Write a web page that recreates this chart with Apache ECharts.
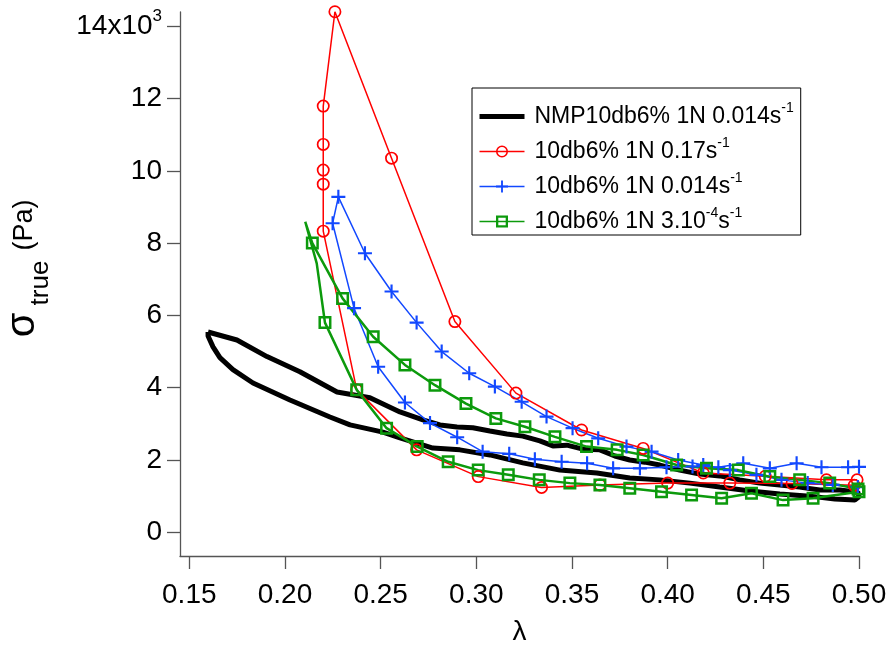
<!DOCTYPE html>
<html><head><meta charset="utf-8">
<script src="https://cdn.jsdelivr.net/npm/echarts@6/dist/echarts.min.js"></script>
<style>html,body{margin:0;padding:0;background:#fff}#c{width:893px;height:646px}</style>
</head><body><div id="c"></div>
<script>
// ---- tick labels ----
const xTicks = [0.15, 0.20, 0.25, 0.30, 0.35, 0.40, 0.45, 0.50];
const yTicks = [0, 2000, 4000, 6000, 8000, 10000, 12000, 14000];

// ---- series names ----
const names = ['NMP10db6% 1N 0.014s-1', '10db6% 1N 0.17s-1', '10db6% 1N 0.014s-1 ', '10db6% 1N 3.10-4s-1'];

// ---- NMP10db6% 1N 0.014 s^-1 (black loop) ----
const blackLambda = [0.1598,0.1749,0.1906,0.2078,0.2272,0.2444,0.2601,0.2721,0.2810,0.2899,0.2982,0.3071,0.3160,0.3243,0.3332,0.3400,0.3473,0.3557,0.3646,0.3724,0.3802,0.3881,0.3959,0.4063,0.4168,0.4272,0.4377,0.4481,0.4586,0.4690,0.4795,0.4900,0.4994,0.5000,
  0.4978,0.4874,0.4743,0.4586,0.4430,0.4272,0.4116,0.3959,0.3802,0.3630,0.3437,0.3243,0.3071,0.2914,0.2773,0.2601,0.2512,0.2340,0.2235,0.2026,0.1833,0.1728,0.1660,0.1624,0.1598,0.1598];
const blackSigma = [5540,5320,4860,4440,3880,3720,3330,3110,2970,2910,2890,2800,2720,2660,2530,2390,2410,2300,2280,2110,2000,1940,1860,1720,1610,1560,1450,1360,1310,1250,1170,1170,1110,980,
  890,920,1000,1060,1140,1250,1360,1450,1500,1640,1720,1920,2140,2280,2330,2610,2770,2970,3190,3660,4130,4500,4830,5130,5430,5540];

// ---- 10db6% 1N 0.17 s^-1 (red, circles) ----
const redLambda = [0.4975,0.4650,0.4325,0.4000,0.3646,0.3341,0.3010,0.2688,0.2375,0.2200,0.2200,0.2200,0.2200,0.2200,0.2261,0.2557,0.2888,0.3207,0.3550,0.3872,0.4186,0.4510,0.4830,0.4990];
const redSigma = [1300,1350,1360,1360,1310,1240,1540,2280,3940,8330,9630,10020,10730,11790,14400,10350,5830,3850,2830,2320,1640,1550,1450,1450];

// ---- 10db6% 1N 0.014 s^-1 (blue, crosses) ----
const blueLambda = [0.5000,0.4943,0.4804,0.4674,0.4534,0.4395,0.4265,0.4130,0.3994,0.3855,0.3715,0.3579,0.3446,0.3306,0.3172,0.3033,0.2900,0.2758,0.2627,0.2487,0.2361,0.2249,0.2279,0.2418,0.2557,0.2688,0.2819,0.2963,0.3097,0.3237,0.3367,0.3503,0.3637,0.3785,0.3916,0.4055,0.4186,0.4325,0.4464,0.4595,0.4732,0.4863,0.4994];
const blueSigma = [1810,1800,1800,1910,1770,1910,1800,1820,1800,1770,1770,1910,1950,2020,2170,2230,2630,3020,3590,4580,6200,8550,9280,7720,6660,5800,5000,4400,4030,3610,3200,2880,2600,2370,2230,2000,1860,1720,1590,1450,1360,1310,1250];

// ---- 10db6% 1N 3.10^-4 s^-1 (green, squares) ----
const greenLambda = [0.5000,0.4760,0.4603,0.4438,0.4282,0.4125,0.3968,0.3802,0.3646,0.3489,0.3329,0.3167,0.3010,0.2853,0.2691,0.2531,0.2375,0.2209,0.2166,0.2106,0.2143,0.2301,0.2461,0.2627,0.2784,0.2946,0.3102,0.3254,0.3411,0.3576,0.3736,0.3872,0.4047,0.4203,0.4369,0.4534,0.4690,0.4847,0.4995];
const greenSigma = [1120,940,890,1080,940,1030,1120,1220,1310,1360,1450,1590,1720,1950,2370,2880,3940,5800,7440,8590,8000,6470,5410,4630,4070,3560,3150,2920,2640,2370,2280,2140,1860,1770,1720,1540,1450,1360,1200];
const greenUnmarked = [18, 19];

const FONT = 'Liberation Sans, Arial, sans-serif';
const RED = '#ff0000', BLUE = '#1248ff', GREEN = '#0c9a0c';
const ringCircle = 'path://M0,6.5A6.5,6.5 0 1,0 13,6.5A6.5,6.5 0 1,0 0,6.5Z M1.7,6.5A4.8,4.8 0 1,1 11.3,6.5A4.8,4.8 0 1,1 1.7,6.5Z';
const plusMark = 'path://M5.5,0H7.5V5.5H13V7.5H7.5V13H5.5V7.5H0V5.5H5.5Z';
const ringSquare = 'path://M0,0H13V13H0Z M2.5,2.5V10.5H10.5V2.5Z';

function zip(xs, ys) { return xs.map((x, i) => [x, ys[i]]); }

const legendText = {};
legendText[names[0]] = '{g| }{a|NMP10db6% 1N 0.014s}{s|-1}';
legendText[names[1]] = '{g| }{a|10db6% 1N 0.17s}{s|-1}';
legendText[names[2]] = '{g| }{a|10db6% 1N 0.014s}{s|-1}';
legendText[names[3]] = '{g| }{a|10db6% 1N 3.10}{s|-4}{a|s}{s|-1}';

function vText(text, x, y, size) {
  return {type: 'text', x: x, y: y, rotation: Math.PI / 2,
    style: {text: text, align: 'center', verticalAlign: 'middle', fontSize: size, fontFamily: FONT, fill: '#000'}};
}

const chart = echarts.init(document.getElementById('c'), null, {renderer: 'canvas'});
chart.setOption({
  animation: false,
  backgroundColor: '#fff',
  grid: {left: 180, right: 34, top: 12, bottom: 90, containLabel: false, outerBoundsMode: 'none'},
  xAxis: {
    type: 'value', min: 0.14514, max: 0.5,
    axisLine: {show: true, onZero: false, lineStyle: {color: '#555', width: 1.3}},
    axisTick: {show: true, length: 13, customValues: xTicks, lineStyle: {color: '#555', width: 1.3}},
    axisLabel: {customValues: xTicks, formatter: v => v.toFixed(2), fontSize: 28, color: '#000', fontFamily: FONT, margin: 25},
    splitLine: {show: false},
    name: 'λ', nameLocation: 'middle', nameGap: 62,
    nameTextStyle: {fontSize: 28, color: '#000', fontFamily: FONT}
  },
  yAxis: {
    type: 'value', min: -656, max: 14393,
    axisLine: {show: true, onZero: false, lineStyle: {color: '#555', width: 1.3}},
    axisTick: {show: true, length: 13, customValues: yTicks, lineStyle: {color: '#555', width: 1.3}},
    axisLabel: {
      customValues: yTicks, margin: 18, color: '#000', fontFamily: FONT, fontSize: 28,
      formatter: v => v === 14000 ? '{m|14x10}{s|3}' : '{n|' + (v / 1000) + '}',
      rich: {
        m: {fontSize: 28, lineHeight: 36, fontFamily: FONT, color: '#000'},
        s: {fontSize: 17, lineHeight: 17, verticalAlign: 'top', fontFamily: FONT, color: '#000'},
        n: {fontSize: 28, lineHeight: 28, fontFamily: FONT, color: '#000'}
      }
    },
    splitLine: {show: false}
  },
  legend: {
    orient: 'vertical', left: 472, top: 88,
    itemWidth: 45, itemHeight: 15, itemGap: 8,
    padding: [13, 7, 2, 5],
    borderColor: '#000', borderWidth: 1,
    selectedMode: false,
    data: [
      {name: names[0], itemStyle: {opacity: 0}, lineStyle: {color: '#000', width: 5}},
      {name: names[1], lineStyle: {color: RED, width: 1.5}},
      {name: names[2], lineStyle: {color: BLUE, width: 1.5}},
      {name: names[3], lineStyle: {color: GREEN, width: 1.5}}
    ],
    formatter: n => legendText[n],
    textStyle: {
      fontFamily: FONT, color: '#000',
      rich: {
        g: {width: 5, fontSize: 23, lineHeight: 31},
        a: {fontSize: 23, lineHeight: 31, fontFamily: FONT, color: '#000'},
        s: {fontSize: 14, lineHeight: 14, verticalAlign: 'top', fontFamily: FONT, color: '#000'}
      }
    }
  },
  graphic: [
    vText('σ', 23, 325, 40),
    vText('true', 41, 283, 26),
    vText('(Pa)', 25, 225, 27)
  ],
  series: [
    {
      name: names[0], type: 'line', data: zip(blackLambda, blackSigma),
      symbol: 'none', clip: false,
      lineStyle: {color: '#000', width: 5}, itemStyle: {color: '#000'}
    },
    {
      name: names[1], type: 'line', data: zip(redLambda, redSigma),
      symbol: ringCircle, symbolSize: 13, clip: false,
      lineStyle: {color: RED, width: 1.5}, itemStyle: {color: RED}
    },
    {
      name: names[2], type: 'line', data: zip(blueLambda, blueSigma),
      symbol: plusMark, symbolSize: 14, clip: false,
      lineStyle: {color: BLUE, width: 1.5}, itemStyle: {color: BLUE}
    },
    {
      name: names[3], type: 'line',
      data: zip(greenLambda, greenSigma).map((p, i) => greenUnmarked.includes(i) ? {value: p, symbol: 'none'} : {value: p}),
      symbol: ringSquare, symbolSize: 13, clip: false,
      lineStyle: {color: GREEN, width: 2.5}, itemStyle: {color: GREEN}
    }
  ]
});
</script></body></html>
